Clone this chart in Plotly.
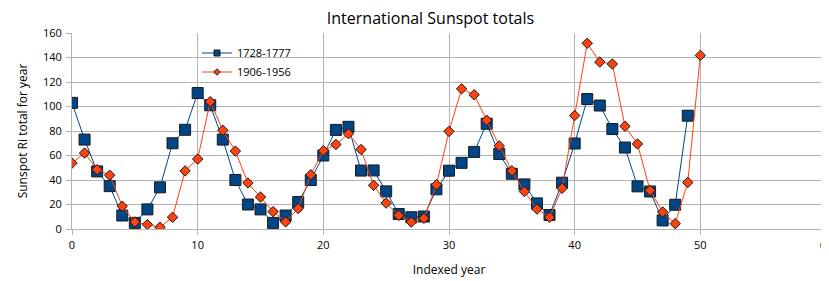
import plotly.graph_objects as go

idx_a = list(range(50))
series_a_name = "1728-1777"
series_a = [103, 73, 47, 35, 11, 5, 16, 34, 70, 81,
            111, 101, 73, 40, 20, 16, 5, 11, 22, 40,
            60, 80.9, 83.4, 47.7, 47.8, 30.7, 12.2, 9.6, 10.2, 32.4,
            47.6, 54.0, 62.9, 85.9, 61.2, 45.1, 36.4, 20.9, 11.4, 37.8,
            69.8, 106.1, 100.8, 81.6, 66.5, 34.8, 30.6, 7.0, 19.8, 92.5]

idx_b = list(range(51))
series_b_name = "1906-1956"
series_b = [53.8, 62.0, 48.5, 43.9, 18.6, 5.7, 3.6, 1.4, 9.6, 47.4,
            57.1, 103.9, 80.6, 63.6, 37.6, 26.1, 14.2, 5.8, 16.7, 44.3,
            63.9, 69.0, 77.8, 64.9, 35.7, 21.2, 11.1, 5.7, 8.7, 36.1,
            79.7, 114.4, 109.6, 88.8, 67.8, 47.5, 30.6, 16.3, 9.6, 33.2,
            92.6, 151.6, 136.3, 134.7, 83.9, 69.4, 31.5, 13.9, 4.4, 38.0,
            141.7]

FONT = "Open Sans"
BLUE = "#004586"
ORANGE = "#ff420e"
EDGE = "#1a1a1a"
GRID = "#b3b3b3"

# the page body adds an 8px margin, so the figure is sized/offset to compensate
W, H = 821, 273
ML, MR, MT, MB = 64, 3, 25, 52
PW = W - ML - MR
PH = H - MT - MB

fig = go.Figure()
fig.add_trace(go.Scatter(
    x=idx_a, y=series_a, name=series_a_name, mode="lines+markers",
    showlegend=False,
    line=dict(color=BLUE, width=1),
    marker=dict(symbol="square", size=11, color=BLUE,
                line=dict(color=EDGE, width=1)),
))
fig.add_trace(go.Scatter(
    x=idx_b, y=series_b, name=series_b_name, mode="lines+markers",
    showlegend=False,
    line=dict(color=ORANGE, width=1),
    marker=dict(symbol="diamond", size=8, color=ORANGE,
                line=dict(color=EDGE, width=1)),
))
# legend entries with the small symbols used by the reference legend
fig.add_trace(go.Scatter(
    x=[None], y=[None], name=series_a_name, mode="lines+markers",
    line=dict(color=BLUE, width=1),
    marker=dict(symbol="square", size=6, color=BLUE,
                line=dict(color=EDGE, width=1)),
))
fig.add_trace(go.Scatter(
    x=[None], y=[None], name=series_b_name, mode="lines+markers",
    line=dict(color=ORANGE, width=1),
    marker=dict(symbol="diamond", size=5, color=ORANGE,
                line=dict(color=EDGE, width=1)),
))

fig.update_layout(
    width=W, height=H,
    margin=dict(l=ML, r=MR, t=MT, b=MB, autoexpand=False),
    paper_bgcolor="white", plot_bgcolor="white",
    font=dict(family=FONT, size=11, color="#000000"),
    title=dict(text="International Sunspot totals", x=422.5 / W, xref="container",
               xanchor="center", y=1 - 10.5 / H, yref="container", yanchor="middle",
               font=dict(size=16, color="#000000")),
    legend=dict(x=(189 - ML) / PW, y=1 - 5.5 / PH, xanchor="left", yanchor="top",
                bgcolor="rgba(0,0,0,0)", font=dict(size=11),
                tracegroupgap=0),
    showlegend=True,
)
fig.update_xaxes(
    range=[0, 60], dtick=10, tick0=0, automargin=False,
    showgrid=True, gridcolor=GRID, gridwidth=1,
    showline=True, linecolor=GRID, linewidth=1,
    ticks="outside", ticklen=5, tickcolor=GRID,
    ticklabeloverflow="allow", ticklabelstandoff=1,
    zeroline=False,
    title=dict(text="Indexed year", font=dict(size=12), standoff=14),
)
fig.update_yaxes(
    range=[0, 160], dtick=20, tick0=0, automargin=False,
    showgrid=True, gridcolor=GRID, gridwidth=1,
    showline=True, linecolor=GRID, linewidth=1,
    ticks="outside", ticklen=5, tickcolor=GRID,
    ticklabelstandoff=2,
    zeroline=False,
    title=dict(text="Sunspot Ri total for year", font=dict(size=12), standoff=12),
)

fig.write_html("out.html")
